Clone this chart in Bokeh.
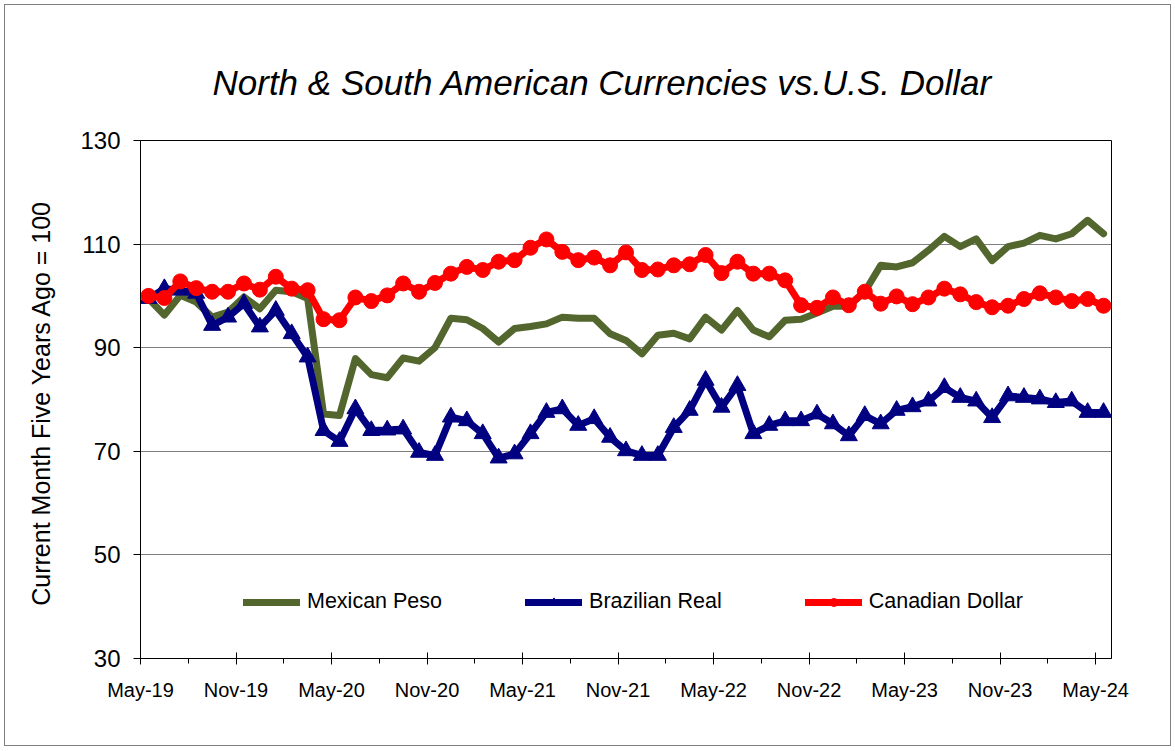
import numpy as np
from bokeh.plotting import figure
from bokeh.models import FixedTicker, Legend, LegendItem, Range1d
from bokeh.embed import file_html
from bokeh.resources import INLINE

# ---- data (index 0 = May-19 ... 60 = May-24), Current Month Five Years Ago = 100 ----
tick_labels = ["May-19", "Nov-19", "May-20", "Nov-20", "May-21", "Nov-21",
               "May-22", "Nov-22", "May-23", "Nov-23", "May-24"]

mexican_peso = [99.5, 96.3, 100.1, 98.8, 95.9, 96.9, 99.8, 97.5, 101.1, 100.8,
                99.5, 77.2, 76.9, 87.9, 84.8, 84.2, 88.0, 87.4, 90.0, 95.7,
                95.4, 93.7, 91.1, 93.7, 94.1, 94.6, 95.9, 95.7, 95.7, 92.7,
                91.4, 88.8, 92.4, 92.8, 91.7, 95.9, 93.4, 97.2, 93.4, 92.1,
                95.3, 95.5, 96.7, 98.0, 98.0, 100.8, 105.9, 105.6, 106.4, 108.8,
                111.5, 109.5, 111.0, 106.8, 109.5, 110.2, 111.7, 111.0, 112.0, 114.6,
                112.0]

brazilian_real = [99.5, 101.4, 101.1, 100.5, 94.3, 95.9, 98.5, 94.0, 97.2, 92.7,
                  88.2, 74.0, 71.9, 78.2, 74.0, 74.1, 74.3, 69.8, 69.2, 76.6,
                  75.9, 73.4, 68.7, 69.5, 73.4, 77.5, 78.2, 75.0, 76.3, 72.7,
                  70.1, 69.2, 69.2, 74.6, 77.9, 83.7, 78.5, 82.7, 73.4, 75.0,
                  75.9, 75.9, 77.2, 75.3, 73.0, 76.9, 75.3, 77.9, 78.6, 79.7,
                  82.3, 80.4, 79.7, 76.5, 80.7, 80.4, 80.1, 79.4, 79.7, 77.5,
                  77.5]

canadian_dollar = [100.0, 99.6, 102.8, 101.5, 100.8, 100.8, 102.4, 101.2, 103.7, 101.4,
                   101.1, 95.5, 95.3, 99.7, 99.0, 100.1, 102.4, 100.8, 102.5, 104.3,
                   105.6, 105.0, 106.6, 106.9, 109.3, 110.9, 108.5, 106.9, 107.4, 105.9,
                   108.4, 105.0, 105.1, 105.9, 106.1, 107.9, 104.4, 106.6, 104.3, 104.3,
                   103.0, 98.2, 97.7, 99.7, 98.2, 100.8, 98.5, 99.9, 98.4, 99.7,
                   101.4, 100.3, 98.8, 97.8, 98.1, 99.4, 100.5, 99.7, 99.0, 99.4,
                   98.1]

n = len(mexican_peso)
x = np.arange(n) + 0.5  # categories centred between boundary ticks

GREEN = "#52662E"
NAVY = "#000080"
RED = "#FF0000"
FONT = "Liberation Sans"

p = figure(width=1167, height=742, x_range=Range1d(0, n), y_range=Range1d(30, 130),
           output_backend="svg", toolbar_location=None,
           min_border_left=135, min_border_right=61, min_border_top=135, min_border_bottom=89)

p.styles = {"border": "1px solid #808080", "margin-left": "4px", "margin-top": "4px"}
p.background_fill_color = "white"
p.border_fill_color = "white"
p.outline_line_color = "black"
p.outline_line_width = 1

# title
p.title.text = "North & South American Currencies vs.U.S. Dollar"
p.title.align = "left"
p.title.offset = 72
p.title.standoff = 78
p.title.text_font = FONT
p.title.text_font_size = "35px"
p.title.text_font_style = "italic"
p.title.text_color = "black"

# x axis
p.xaxis.ticker = FixedTicker(ticks=list(range(0, n, 6)), minor_ticks=list(range(3, n, 6)))
p.xaxis.major_label_overrides = {i * 6: lab for i, lab in enumerate(tick_labels)}
p.xaxis.major_tick_in = 6
p.xaxis.major_tick_out = 6
p.xaxis.minor_tick_in = 0
p.xaxis.minor_tick_out = 5
p.xaxis.major_label_standoff = 14
p.xaxis.major_label_text_font = FONT
p.xaxis.major_label_text_font_size = "20px"
p.xaxis.major_label_text_color = "black"
p.xaxis.axis_line_color = "black"
p.xaxis.major_tick_line_color = "black"
p.xaxis.minor_tick_line_color = "black"

# y axis
p.yaxis.ticker = FixedTicker(ticks=list(range(30, 131, 20)))
p.yaxis.major_tick_in = 0
p.yaxis.major_tick_out = 7
p.yaxis.minor_tick_in = 0
p.yaxis.minor_tick_out = 0
p.yaxis.major_label_standoff = 13
p.yaxis.major_label_text_font = FONT
p.yaxis.major_label_text_font_size = "24px"
p.yaxis.major_label_text_color = "black"
p.yaxis.axis_line_color = "black"
p.yaxis.major_tick_line_color = "black"
p.yaxis.axis_label = "Current Month Five Years Ago  = 100"
p.yaxis.axis_label_text_font = FONT
p.yaxis.axis_label_text_font_size = "25px"
p.yaxis.axis_label_text_font_style = "normal"
p.yaxis.axis_label_text_color = "black"
p.yaxis.axis_label_standoff = 22

# grid
p.xgrid.visible = False
p.ygrid.ticker = FixedTicker(ticks=[50, 70, 90, 110])
p.ygrid.grid_line_color = "black"
p.ygrid.grid_line_dash = "1 1"
p.ygrid.grid_line_width = 1

# series
r_peso = p.line(x, mexican_peso, line_color=GREEN, line_width=7,
                line_join="round", line_cap="round")
r_real_l = p.line(x, brazilian_real, line_color=NAVY, line_width=7,
                  line_join="round", line_cap="round")
r_real_m = p.scatter(x, brazilian_real, marker="triangle", size=17,
                     fill_color=NAVY, line_color=NAVY)
r_cad_l = p.line(x, canadian_dollar, line_color=RED, line_width=7,
                 line_join="round", line_cap="round")
r_cad_m = p.scatter(x, canadian_dollar, marker="circle", size=15,
                    fill_color=RED, line_color=RED)

legend = Legend(items=[
    LegendItem(label="Mexican Peso", renderers=[r_peso]),
    LegendItem(label="Brazilian Real", renderers=[r_real_l, r_real_m]),
    LegendItem(label="Canadian Dollar", renderers=[r_cad_l, r_cad_m]),
], orientation="horizontal", location=(103, 44), glyph_width=57, glyph_height=20,
    label_standoff=7, spacing=83, padding=0, margin=0,
    border_line_color=None, background_fill_alpha=0,
    label_text_font=FONT, label_text_font_size="21.5px", label_text_color="black",
    label_height=20)
p.add_layout(legend)

open("out.html", "w").write(file_html(p, INLINE))
